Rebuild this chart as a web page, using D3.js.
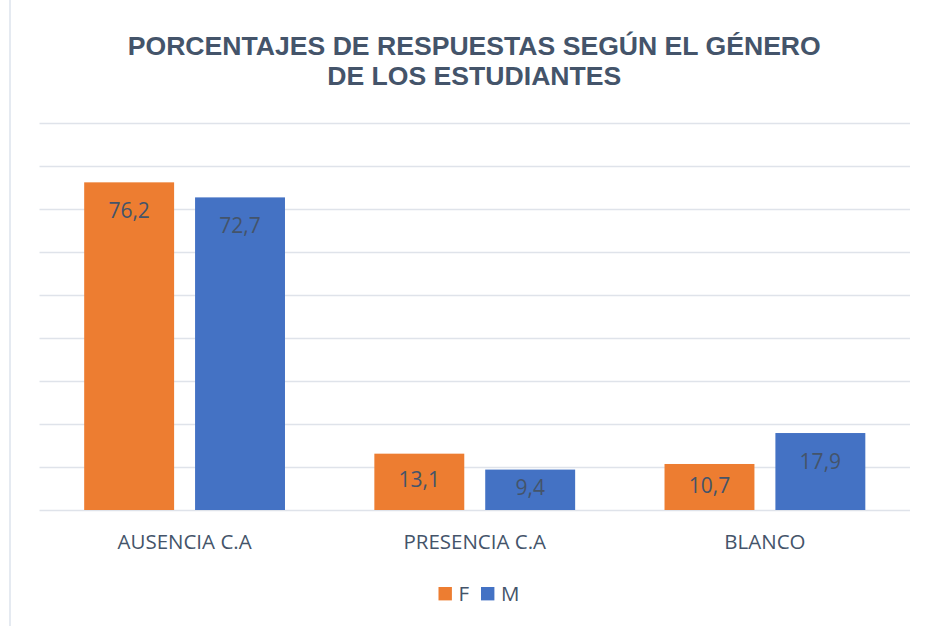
<!DOCTYPE html>
<html>
<head>
<meta charset="utf-8">
<script src="https://cdn.jsdelivr.net/npm/d3@7"></script>
<style>
  body { margin: 0; background: #fff; }
  svg { display: block; }
  .label { font-family: "Open Sans", sans-serif; fill: #44546A; }
</style>
</head>
<body>
<div id="chart"></div>
<script>
// data
var categories = ["AUSENCIA C.A", "PRESENCIA C.A", "BLANCO"];
var series = ["F", "M"];
var valuesF = [76.2, 13.1, 10.7];
var valuesM = [72.7, 9.4, 17.9];
var colors = ["#ED7D31", "#4472C4"];
var titleLines = ["PORCENTAJES DE RESPUESTAS SEGÚN EL GÉNERO", "DE LOS ESTUDIANTES"];

var svgWidth = 926;
var svgHeight = 626;

var margin = { top: 123, right: 16, bottom: 116, left: 39.5 };
var width = svgWidth - margin.left - margin.right;
var height = svgHeight - margin.top - margin.bottom;

var svg = d3.select("#chart")
  .append("svg")
  .attr("width", svgWidth)
  .attr("height", svgHeight);

// left border of chart area
svg.append("line")
  .attr("x1", 10).attr("x2", 10)
  .attr("y1", 0).attr("y2", svgHeight)
  .attr("stroke", "#dde3ec")
  .attr("stroke-width", 1.5);

// title
svg.append("text")
  .attr("x", margin.left + width / 2 - 0.5)
  .attr("y", 55)
  .attr("text-anchor", "middle")
  .style("font-family", "'Liberation Sans', Arial, sans-serif")
  .style("font-weight", "bold")
  .style("font-size", "26.6px")
  .style("fill", "#44546A")
  .selectAll("tspan")
  .data(titleLines)
  .enter()
  .append("tspan")
  .attr("x", margin.left + width / 2 - 0.5)
  .attr("dy", (d, i) => i === 0 ? 0 : 30)
  .text(d => d);

var chartGroup = svg.append("g")
  .attr("transform", `translate(${margin.left}, ${margin.top})`);

var data = categories.map(function(c, i) {
  return { category: c, values: [valuesF[i], valuesM[i]] };
});

// scales
var x0 = d3.scaleBand()
  .domain(categories)
  .range([0, width]);

var x1 = d3.scaleBand()
  .domain(series)
  .range([0, x0.bandwidth()])
  .paddingInner(0.189)
  .paddingOuter(0.403);

var y = d3.scaleLinear()
  .domain([0, 90])
  .range([height, 0]);

// gridlines
var grid = chartGroup.append("g")
  .call(d3.axisLeft(y).ticks(9).tickSize(-width).tickFormat(""));
grid.select(".domain").remove();
grid.selectAll(".tick line")
  .attr("stroke", "#dfe3ea")
  .attr("stroke-width", 1.4);

// bars
var groups = chartGroup.selectAll(".group")
  .data(data)
  .enter()
  .append("g")
  .attr("transform", d => `translate(${x0(d.category)}, 0)`);

var cells = groups.selectAll(".cell")
  .data(d => d.values.map((v, i) => ({ key: series[i], value: v, idx: i })))
  .enter();

cells.append("rect")
  .attr("x", d => x1(d.key))
  .attr("y", d => y(d.value))
  .attr("width", x1.bandwidth())
  .attr("height", d => height - y(d.value))
  .attr("fill", d => colors[d.idx]);

// value labels, inside end (centred in short bars)
cells.append("text")
  .attr("class", "label")
  .attr("x", d => x1(d.key) + x1.bandwidth() / 2)
  .attr("y", function(d) {
    var top = y(d.value);
    return Math.min(top + 28.5, (top + height) / 2 - 2);
  })
  .attr("dy", "0.36em")
  .attr("text-anchor", "middle")
  .style("font-size", "21px")
  .text(d => d3.format(".1f")(d.value).replace(".", ","));

// category labels
chartGroup.selectAll(".cat")
  .data(categories)
  .enter()
  .append("text")
  .attr("class", "label")
  .attr("x", d => x0(d) + x0.bandwidth() / 2)
  .attr("y", height + 39)
  .attr("text-anchor", "middle")
  .style("font-size", "20.5px")
  .text(d => d);

// legend
var legend = svg.append("g")
  .attr("transform", "translate(438.5, 587)");

var legendX = [0, 42.5];
series.forEach(function(s, i) {
  legend.append("rect")
    .attr("x", legendX[i])
    .attr("y", 0)
    .attr("width", 13.4)
    .attr("height", 13.4)
    .attr("fill", colors[i]);
  legend.append("text")
    .attr("class", "label")
    .attr("x", legendX[i] + 20)
    .attr("y", 13.6)
    .style("font-size", "20.5px")
    .text(s);
});
</script>
</body>
</html>
